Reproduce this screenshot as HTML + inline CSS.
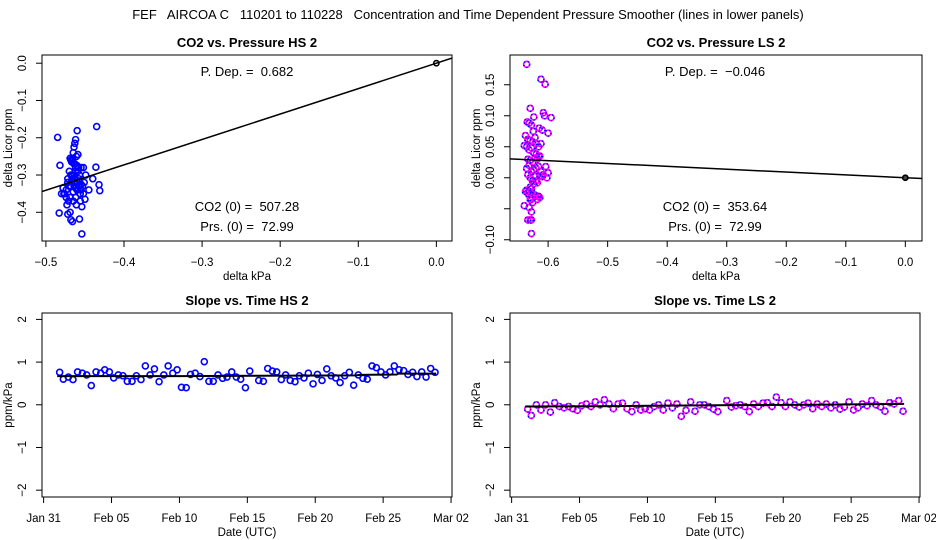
<!DOCTYPE html>
<html><head><meta charset="utf-8">
<style>
html,body{margin:0;padding:0;background:#fff;}
svg{display:block;font-family:"Liberation Sans",Arial,sans-serif;}
text{white-space:pre;}
</style></head>
<body>
<svg id="chart" width="936" height="540" viewBox="0 0 936 540" xmlns="http://www.w3.org/2000/svg">
<text x="468" y="19" font-size="13" text-anchor="middle" xml:space="preserve">FEF   AIRCOA C   110201 to 110228   Concentration and Time Dependent Pressure Smoother (lines in lower panels)</text>
</svg>
<script>
// ---- data: top-left (HS) pressure dependence scatter ----
const hsDp = [-0.485,-0.435,-0.460,-0.482,-0.462,-0.463,-0.464,-0.465,-0.466,-0.468,-0.467,-0.469,-0.463,-0.461,-0.459,-0.460,-0.470,-0.472,-0.466,-0.464,-0.462,-0.468,-0.465,-0.463,-0.458,-0.455,-0.452,-0.449,-0.436,-0.440,-0.432,-0.431,-0.445,-0.450,-0.454,-0.456,-0.478,-0.476,-0.474,-0.471,-0.469,-0.473,-0.480,-0.477,-0.483,-0.472,-0.468,-0.466,-0.457,-0.461,-0.454,-0.465,-0.462,-0.460,-0.458,-0.455,-0.452,-0.470,-0.467,-0.463,-0.459,-0.466,-0.464,-0.462,-0.474,-0.469,-0.466,-0.462,-0.458,-0.455,-0.468,-0.472,-0.464,-0.460,-0.456,-0.453,-0.451,-0.457];
const hsDc = [-0.199,-0.170,-0.181,-0.274,-0.205,-0.215,-0.225,-0.240,-0.255,-0.260,-0.265,-0.255,-0.270,-0.250,-0.245,-0.275,-0.290,-0.310,-0.300,-0.320,-0.335,-0.330,-0.345,-0.310,-0.280,-0.280,-0.280,-0.300,-0.279,-0.310,-0.326,-0.342,-0.340,-0.365,-0.385,-0.370,-0.335,-0.350,-0.360,-0.370,-0.400,-0.380,-0.350,-0.350,-0.402,-0.405,-0.420,-0.425,-0.418,-0.380,-0.458,-0.370,-0.360,-0.320,-0.330,-0.340,-0.350,-0.330,-0.315,-0.300,-0.290,-0.260,-0.270,-0.280,-0.340,-0.360,-0.310,-0.290,-0.310,-0.325,-0.300,-0.320,-0.330,-0.340,-0.350,-0.330,-0.320,-0.300];
const hsSlope = 0.682;
// ---- data: top-right (LS) ----
const lsDp = [-0.636,-0.612,-0.605,-0.630,-0.608,-0.606,-0.595,-0.624,-0.615,-0.600,-0.610,-0.635,-0.632,-0.628,-0.625,-0.622,-0.638,-0.634,-0.630,-0.626,-0.620,-0.616,-0.612,-0.636,-0.632,-0.628,-0.624,-0.620,-0.616,-0.640,-0.634,-0.630,-0.626,-0.622,-0.618,-0.614,-0.636,-0.632,-0.628,-0.624,-0.620,-0.616,-0.612,-0.608,-0.604,-0.600,-0.602,-0.634,-0.630,-0.626,-0.622,-0.618,-0.614,-0.610,-0.636,-0.632,-0.628,-0.624,-0.620,-0.616,-0.630,-0.626,-0.622,-0.618,-0.614,-0.638,-0.634,-0.630,-0.626,-0.622,-0.618,-0.632,-0.628,-0.640,-0.636,-0.632,-0.628,-0.628,-0.630,-0.634,-0.628];
const lsDc = [0.183,0.159,0.151,0.112,0.105,0.100,0.097,0.098,0.080,0.072,0.077,0.090,0.088,0.085,0.075,0.065,0.068,0.062,0.060,0.058,0.055,0.050,0.055,0.050,0.045,0.048,0.040,0.038,0.035,0.052,0.030,0.028,0.025,0.032,0.030,0.035,0.015,0.020,0.010,0.012,0.015,0.018,0.010,0.005,0.018,0.008,0.000,0.005,0.000,-0.005,0.002,-0.008,0.003,0.002,-0.020,-0.022,-0.018,-0.010,-0.005,-0.030,-0.015,-0.025,-0.028,-0.030,-0.032,-0.022,-0.025,-0.035,-0.040,-0.030,-0.035,-0.028,-0.035,-0.045,-0.020,-0.048,-0.055,-0.068,-0.068,-0.068,-0.090];
const lsSlope = -0.046;
// ---- data: bottom panels (time in days since Jan 31 00:00 UTC) ----
const times = [1.18,1.45,1.82,2.16,2.50,2.85,3.17,3.51,3.86,4.20,4.50,4.84,5.16,5.50,5.84,6.16,6.51,6.83,7.17,7.49,7.84,8.16,8.50,8.85,9.17,9.51,9.83,10.15,10.50,10.82,11.16,11.51,11.83,12.17,12.49,12.84,13.18,13.50,13.85,14.19,14.51,14.86,15.18,15.84,16.18,16.50,16.84,17.16,17.50,17.82,18.16,18.51,18.83,19.17,19.49,19.84,20.16,20.50,20.85,21.17,21.51,21.83,22.17,22.51,22.83,23.17,23.51,23.83,24.18,24.50,24.84,25.18,25.50,25.82,26.17,26.51,26.83,27.17,27.49,27.84,28.16,28.50,28.82];
const hsSlopes = [0.76,0.60,0.65,0.59,0.77,0.74,0.70,0.45,0.77,0.74,0.82,0.77,0.63,0.70,0.68,0.55,0.55,0.68,0.59,0.91,0.70,0.84,0.54,0.70,0.91,0.74,0.82,0.41,0.40,0.71,0.74,0.66,1.01,0.55,0.55,0.70,0.62,0.65,0.77,0.65,0.60,0.40,0.79,0.57,0.55,0.85,0.79,0.77,0.59,0.70,0.57,0.54,0.68,0.63,0.74,0.49,0.71,0.57,0.84,0.68,0.63,0.52,0.68,0.76,0.46,0.70,0.62,0.60,0.91,0.87,0.77,0.70,0.77,0.91,0.82,0.80,0.71,0.76,0.66,0.77,0.65,0.85,0.76];
const lsSlopes = [-0.10,-0.25,0.00,-0.12,0.00,-0.17,0.05,-0.04,-0.07,-0.04,-0.09,-0.13,-0.02,0.02,-0.04,0.07,0.00,0.12,0.02,-0.09,0.02,0.04,-0.09,-0.16,0.00,-0.12,-0.09,-0.12,-0.04,0.00,-0.12,0.04,-0.07,0.02,-0.27,-0.13,0.07,-0.15,0.00,0.00,-0.04,-0.10,-0.16,0.10,-0.05,-0.02,0.00,-0.04,-0.16,0.02,-0.04,0.04,0.05,-0.04,0.18,0.05,-0.04,0.07,0.00,-0.05,0.00,0.04,-0.09,0.02,-0.04,0.02,-0.07,0.00,-0.10,-0.05,0.07,-0.12,-0.07,0.02,-0.02,0.10,0.00,-0.05,-0.15,0.05,0.02,0.10,-0.15];
const hsSmoothT = [1.0,10.0,16.0,23.0,23.3,26.0,26.1,28.9];
const hsSmoothV = [0.67,0.67,0.68,0.69,0.70,0.71,0.73,0.73];
const lsSmoothT = [1.0,8.0,15.0,22.0,28.9];
const lsSmoothV = [-0.04,-0.03,-0.01,0.00,0.02];
const dateTickDays = [0,5,10,15,20,25,30];
const dateTickLabels = ["Jan 31","Feb 05","Feb 10","Feb 15","Feb 20","Feb 25","Mar 02"];
const hsXTicks = [-0.5,-0.4,-0.3,-0.2,-0.1,0.0];
const hsYTicks = [0.0,-0.1,-0.2,-0.3,-0.4];
const lsXTicks = [-0.6,-0.5,-0.4,-0.3,-0.2,-0.1,0.0];
const lsYTicks = [0.15,0.10,0.05,0.00,-0.05,-0.10];
const lsYLabels = ["0.15","0.10","0.05","0.00","","-0.10"];
const slopeYTicks = [2,1,0,-1,-2];

const NS="http://www.w3.org/2000/svg";
const svg=document.getElementById('chart');
function mk(tag,attrs,parent,text){const e=document.createElementNS(NS,tag);for(const k in attrs)e.setAttribute(k,attrs[k]);if(text!==undefined)e.textContent=text;(parent||svg).appendChild(e);return e;}
function fmt(v,d){const s=v.toFixed(d);return s.replace('-','\u2212');}

function panel(p){
  const g=mk('g',{});
  
  
  const sx=v=>p.x0+(v-p.xmin)/(p.xmax-p.xmin)*(p.x1-p.x0);
  const sy=v=>p.y1-(v-p.ymin)/(p.ymax-p.ymin)*(p.y1-p.y0);
  const box=mk('rect',{x:p.x0,y:p.y0,width:p.x1-p.x0,height:p.y1-p.y0,fill:'none',stroke:'#000','stroke-width':1},g);
  
  
  const t=mk('text',{x:(p.x0+p.x1)/2,y:p.y0-8,'font-size':13,'font-weight':'bold','text-anchor':'middle'},g,p.title);
  
  
  const xa=mk('g',{},g);
  
  
  p.xTicks.forEach((v,i)=>{
    mk('line',{x1:sx(v),x2:sx(v),y1:p.y1,y2:p.y1+6,stroke:'#000'},xa);
    const tl=mk('text',{x:sx(v),y:p.y1+25,'font-size':11.5,'text-anchor':'middle'},xa,p.xLabels[i]);
    
    
  });
  const xt=mk('text',{x:(p.x0+p.x1)/2,y:p.y1+39,'font-size':11.5,'text-anchor':'middle'},g,p.xTitle);
  
  
  const ya=mk('g',{},g);
  
  
  p.yTicks.forEach((v,i)=>{
    mk('line',{x1:p.x0-6,x2:p.x0,y1:sy(v),y2:sy(v),stroke:'#000'},ya);
    if(p.yLabels[i]){
      const yl=mk('text',{x:0,y:0,'font-size':11.5,'text-anchor':'middle',transform:`translate(${p.x0-16},${sy(v)}) rotate(-90)`},ya,p.yLabels[i]);
      
      
    }
  });
  const yt=mk('text',{x:0,y:0,'font-size':11.5,'text-anchor':'middle',transform:`translate(${p.x0-30},${(p.y0+p.y1)/2}) rotate(-90)`},g,p.yTitle);
  
  
  const clip='clip'+p.name;
  const cp=mk('clipPath',{id:clip},g);mk('rect',{x:p.x0,y:p.y0,width:p.x1-p.x0,height:p.y1-p.y0},cp);
  const pg=mk('g',{'clip-path':`url(#${clip})`},g);
  
  
  return {g:pg,root:g,sx,sy};
}
function points(P,xs,ys,color,two,name){
  const n=Math.min(xs.length,ys.length);
  for(let i=0;i<n;i++){
    const c=mk('circle',{cx:P.sx(xs[i]),cy:P.sy(ys[i]),r:3,fill:'none',stroke:color,'stroke-width':1.6},P.g);
    
    
    if(two){mk('circle',{cx:P.sx(xs[i]),cy:P.sy(ys[i]),r:3,fill:'none',stroke:'#0000ff','stroke-width':1.6,'stroke-dasharray':'1.2,2.5'},P.g);}
  }
}
function label(P,x,y,txt,name){
  const e=mk('text',{x:x,y:y,'font-size':13,'text-anchor':'middle'},P.root,txt);
  e.setAttribute('xml:space','preserve');
  
  
}

const TL=panel({name:'panel-co2-pressure-hs',title:'CO2 vs. Pressure HS 2',x0:42,x1:452,y0:55,y1:241,xmin:-0.505,xmax:0.020,ymin:-0.477,ymax:0.022,
  xTicks:hsXTicks,xLabels:hsXTicks.map(v=>fmt(v,1)),yTicks:hsYTicks,yLabels:hsYTicks.map(v=>fmt(v,1)),xTitle:'delta kPa',yTitle:'delta Licor ppm'});
points(TL,hsDp,hsDc,'#0000ff',false,'hs-point');
{const l=mk('line',{x1:TL.sx(-0.505),y1:TL.sy(-0.505*hsSlope),x2:TL.sx(0.02),y2:TL.sy(0.02*hsSlope),stroke:'#000','stroke-width':1.5},TL.g);

const o=mk('circle',{cx:TL.sx(0),cy:TL.sy(0),r:2.6,fill:'none',stroke:'#000','stroke-width':1.6},TL.g);
}
label(TL,247,76,'P. Dep. =  0.682','hs-pdep-label');
label(TL,247,211,'CO2 (0) =  507.28','hs-co2-label');
label(TL,247,231,'Prs. (0) =  72.99','hs-prs-label');

const TR=panel({name:'panel-co2-pressure-ls',title:'CO2 vs. Pressure LS 2',x0:510,x1:922,y0:55,y1:241,xmin:-0.664,xmax:0.028,ymin:-0.102,ymax:0.198,
  xTicks:lsXTicks,xLabels:lsXTicks.map(v=>fmt(v,1)),yTicks:lsYTicks,yLabels:lsYLabels.map(s=>s.replace('-','\u2212')),xTitle:'delta kPa',yTitle:'delta Licor ppm'});
points(TR,lsDp,lsDc,'#ff00ff',true,'ls-point');
{const l=mk('line',{x1:TR.sx(-0.664),y1:TR.sy(-0.664*lsSlope),x2:TR.sx(0.028),y2:TR.sy(0.028*lsSlope),stroke:'#000','stroke-width':1.5},TR.g);

const o=mk('circle',{cx:TR.sx(0),cy:TR.sy(0),r:2.6,fill:'#444',stroke:'#000','stroke-width':1.6},TR.g);
}
label(TR,715,76,'P. Dep. =  \u22120.046','ls-pdep-label');
label(TR,715,211,'CO2 (0) =  353.64','ls-co2-label');
label(TR,715,231,'Prs. (0) =  72.99','ls-prs-label');

function slopePanel(name,title,x0,x1,vals,color,two,smT,smV,ptName){
  const P=panel({name:name,title:title,x0:x0,x1:x1,y0:313,y1:497,xmin:-0.12,xmax:30.07,ymin:-2.16,ymax:2.15,
    xTicks:dateTickDays,xLabels:dateTickLabels,yTicks:slopeYTicks,yLabels:slopeYTicks.map(v=>String(v).replace('-','\u2212')),xTitle:'Date (UTC)',yTitle:'ppm/kPa'});
  points(P,times,vals,color,two,ptName);
  const pl=mk('polyline',{points:smT.map((t,i)=>P.sx(t)+','+P.sy(smV[i])).join(' '),fill:'none',stroke:'#000','stroke-width':2},P.g);
  
  
}
slopePanel('panel-slope-time-hs','Slope vs. Time HS 2',42,452,hsSlopes,'#0000ff',false,hsSmoothT,hsSmoothV,'hs-slope-point');
slopePanel('panel-slope-time-ls','Slope vs. Time LS 2',510,920,lsSlopes,'#ff00ff',true,lsSmoothT,lsSmoothV,'ls-slope-point');
</script>
</body></html>
